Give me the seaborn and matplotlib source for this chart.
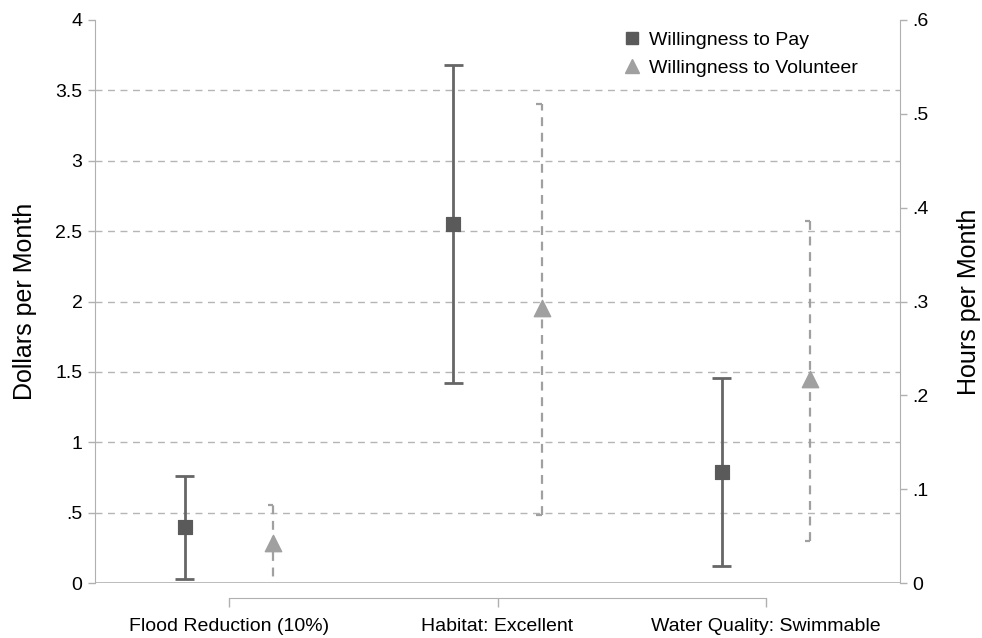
import matplotlib
matplotlib.use("Agg")
import matplotlib.pyplot as plt
import seaborn as sns
import pandas as pd
import numpy as np
from matplotlib.lines import Line2D

categories = ["Flood Reduction (10%)", "Habitat: Excellent", "Water Quality: Swimmable"]
wtp = [0.40, 2.55, 0.79]
wtp_lo = [0.03, 1.42, 0.12]
wtp_hi = [0.76, 3.68, 1.46]
wtv = [0.043, 0.293, 0.217]
wtv_lo = [-0.01, 0.072, 0.045]
wtv_hi = [0.083, 0.51, 0.386]
left_ticks = [0, 0.5, 1, 1.5, 2, 2.5, 3, 3.5, 4]
left_labels = ["0", ".5", "1", "1.5", "2", "2.5", "3", "3.5", "4"]
right_ticks = [0, 0.1, 0.2, 0.3, 0.4, 0.5, 0.6]
right_labels = ["0", ".1", ".2", ".3", ".4", ".5", ".6"]

sns.set_style("white")
plt.rcParams["font.family"] = ["Liberation Sans", "DejaVu Sans"]
plt.rcParams["text.color"] = "black"
plt.rcParams["axes.labelcolor"] = "black"

fig = plt.figure(figsize=(9.82, 6.38), dpi=100)
ax = fig.add_axes([95/982, 55/638, 805/982, 563/638])
ax2 = ax.twinx()

pos = np.arange(1, len(categories) + 1)
off = 0.165
dark = "#5a5a5a"
light = "#a0a0a0"
spine_c = "#b0b0b0"
fs = 14

df1 = pd.DataFrame({"x": pos - off, "y": wtp, "lo": wtp_lo, "hi": wtp_hi})
df2 = pd.DataFrame({"x": pos + off, "y": wtv, "lo": wtv_lo, "hi": wtv_hi})

# gridlines
for t in left_ticks[1:-1]:
    ax.axhline(t, color="#b5b5b5", lw=1, ls=(0, (5, 4)), zorder=0)
ax.axhline(0, color=spine_c, lw=1.2, zorder=1)

# WTP CIs
ax.vlines(df1["x"], df1["lo"], df1["hi"], color="#666666", lw=2, zorder=2)
cw = 0.035
ax.hlines(df1["lo"], df1["x"] - cw, df1["x"] + cw, color="#666666", lw=2, zorder=2)
ax.hlines(df1["hi"], df1["x"] - cw, df1["x"] + cw, color="#666666", lw=2, zorder=2)
sns.scatterplot(data=df1, x="x", y="y", marker="s", s=110, color=dark,
                edgecolor=dark, ax=ax, zorder=3, legend=False)

# WTV CIs
ax2.vlines(df2["x"], df2["lo"], df2["hi"], color=light, lw=1.6, ls=(0, (4, 3)), zorder=2)
ax2.hlines(df2["hi"], df2["x"] - 0.02, df2["x"], color=light, lw=1.6, zorder=2)
ax2.hlines(df2["lo"], df2["x"] - 0.02, df2["x"], color=light, lw=1.6, zorder=2)
sns.scatterplot(data=df2, x="x", y="y", marker="^", s=140, color=light,
                edgecolor=light, ax=ax2, zorder=3, legend=False)

ax.set_xlim(0.5, 3.5)
ax.set_ylim(0, 4)
ax2.set_ylim(0, 0.6)
ax.set_xticks(pos)
ax.set_xticklabels(categories)
ax.set_yticks(left_ticks)
ax.set_yticklabels(left_labels)
ax2.set_yticks(right_ticks)
ax2.set_yticklabels(right_labels)
ax.set_xlabel("")
ax2.set_xlabel("")
ax.set_ylabel("Dollars per Month", fontsize=18, labelpad=13, color="black")
ax2.set_ylabel("Hours per Month", fontsize=18, labelpad=20, color="black")

for a in (ax, ax2):
    a.spines["top"].set_visible(False)
    a.spines["left"].set_color(spine_c)
    a.spines["right"].set_color(spine_c)
    a.spines["bottom"].set_visible(False)
    a.grid(False)
ax2.spines["left"].set_visible(False)
ax.spines["right"].set_visible(False)
ax.spines["bottom"].set_visible(True)
ax.spines["bottom"].set_color(spine_c)
ax.spines["bottom"].set_position(("outward", 11))
ax.spines["bottom"].set_bounds(1, 3)

ax.tick_params(axis="y", direction="out", length=5, width=1, color=spine_c, pad=4,
               left=True, labelsize=fs, labelcolor="black")
ax.tick_params(axis="x", direction="out", length=6.5, width=1, color=spine_c, pad=8,
               bottom=True, labelsize=fs, labelcolor="black")
ax2.tick_params(axis="y", direction="out", length=5, width=1, color=spine_c, pad=4,
                right=True, labelsize=fs, labelcolor="black")

# legend
handles = [Line2D([], [], marker="s", ls="none", color=dark, markersize=9),
           Line2D([], [], marker="^", ls="none", color=light, markersize=10.5)]
ax2.legend(handles, ["Willingness to Pay", "Willingness to Volunteer"], loc="upper right",
           bbox_to_anchor=(0.9695, 1.011), frameon=False, fontsize=fs, handletextpad=0.3,
           labelspacing=0.55, handlelength=1.2, labelcolor="black")

fig.savefig("out.png", dpi=100)
